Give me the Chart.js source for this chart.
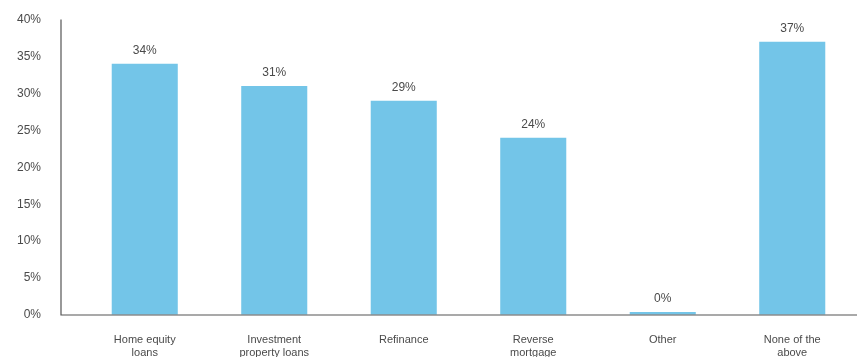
<!DOCTYPE html>
<html>
<head>
<meta charset="utf-8">
<script src="https://cdn.jsdelivr.net/npm/chart.js@4/dist/chart.umd.min.js"></script>
<style>
  html, body { margin: 0; padding: 0; background: #ffffff; overflow: hidden; }
  canvas { display: block; }
</style>
</head>
<body>
<canvas id="c" width="857" height="357"></canvas>
<script>
// Survey categories (multi-line labels) and share of respondents (%)
const categories = [
  ['Home equity', 'loans'],
  ['Investment', 'property loans'],
  ['Refinance'],
  ['Reverse', 'mortgage'],
  ['Other'],
  ['None of the', 'above']
];
const shares = [34, 31, 29, 24, 0.4, 37];
const yTicks = [0, 5, 10, 15, 20, 25, 30, 35, 40];

const TEXT = '#4a4a4a';
const FONT = '"Liberation Sans", Arial, sans-serif';

// Axis lines: the vertical axis sits a little left of the first category slot
const axisLines = {
  id: 'axisLines',
  afterDraw(chart) {
    const { ctx, chartArea } = chart;
    const x0 = chartArea.left - 19;
    ctx.save();
    ctx.strokeStyle = '#555555';
    ctx.lineWidth = 1.2;
    ctx.beginPath();
    ctx.moveTo(x0, chartArea.top);
    ctx.lineTo(x0, chartArea.bottom);
    ctx.lineTo(chartArea.right, chartArea.bottom);
    ctx.stroke();
    ctx.restore();
  }
};

// Value labels above each bar
const valueLabels = {
  id: 'valueLabels',
  afterDatasetsDraw(chart) {
    const { ctx } = chart;
    const meta = chart.getDatasetMeta(0);
    ctx.save();
    ctx.fillStyle = TEXT;
    ctx.font = '12px ' + FONT;
    ctx.textAlign = 'center';
    ctx.textBaseline = 'bottom';
    meta.data.forEach((bar, i) => {
      ctx.fillText(Math.round(shares[i]) + '%', bar.x, bar.y - 7);
    });
    ctx.restore();
  }
};

new Chart(document.getElementById('c'), {
  type: 'bar',
  data: {
    labels: categories,
    datasets: [{
      data: shares,
      backgroundColor: '#73c5e8',
      borderWidth: 0,
      categoryPercentage: 1,
      barPercentage: 0.51
    }]
  },
  options: {
    responsive: false,
    animation: false,
    layout: { padding: { top: 19.5, left: 0, right: 0, bottom: 0 } },
    plugins: {
      legend: { display: false },
      tooltip: { enabled: false }
    },
    scales: {
      x: {
        offset: true,
        grid: { display: false, drawTicks: false },
        border: { display: false },
        ticks: {
          color: TEXT,
          font: { family: FONT, size: 11, lineHeight: 1.2 },
          padding: 18,
          maxRotation: 0,
          autoSkip: false
        },
        afterFit(scale) { scale.height = 42; }
      },
      y: {
        min: 0,
        max: 40,
        afterBuildTicks(scale) { scale.ticks = yTicks.map(v => ({ value: v })); },
        grid: {
          display: true,
          drawOnChartArea: false,
          drawTicks: true,
          tickLength: 39,
          tickColor: 'rgba(0,0,0,0)'
        },
        border: { display: false },
        ticks: {
          color: TEXT,
          font: { family: FONT, size: 12 },
          padding: 0,
          callback: v => v + '%'
        },
        afterFit(scale) { scale.width = 80; }
      }
    }
  },
  plugins: [axisLines, valueLabels]
});
</script>
</body>
</html>
